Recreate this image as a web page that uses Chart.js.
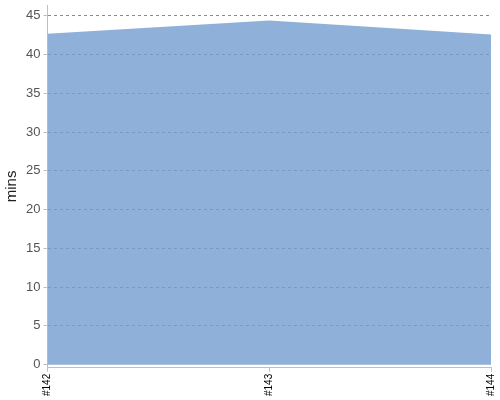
<!DOCTYPE html>
<html>
<head>
<meta charset="utf-8">
<script src="https://cdn.jsdelivr.net/npm/chart.js@4"></script>
<style>
  html, body { margin: 0; padding: 0; background: #fff; }
  #wrap { width: 500px; height: 400px; }
</style>
</head>
<body>
<div id="wrap"><canvas id="mins-chart"></canvas></div>
<script>
const builds = ['#142', '#143', '#144'];
const minutes = [42.7, 44.4, 42.6];
const yTicks = [0, 5, 10, 15, 20, 25, 30, 35, 40, 45];

const ctx = document.getElementById('mins-chart');

// drop the edge padding Chart.js reserves for tick labels
const noEdgePadding = (scale) => {
    scale.paddingTop = 0;
    scale.paddingBottom = 0;
    scale.paddingLeft = 0;
    scale.paddingRight = 0;
};

new Chart(ctx, {
    type: 'line',
    data: {
        labels: builds,
        datasets: [{
            data: minutes,
            fill: 'origin',
            tension: 0,
            pointRadius: 0,
            borderWidth: 0,
            backgroundColor: 'rgba(114, 156, 208, 0.8)'
        }]
    },
    options: {
        responsive: true,
        maintainAspectRatio: false,
        animation: false,
        layout: { padding: { top: 5, right: 9, left: 0, bottom: 2 } },
        plugins: {
            legend: { display: false },
            tooltip: { enabled: false }
        },
        scales: {
            x: {
                offset: false,
                afterFit: noEdgePadding,
                grid: {
                    display: true,
                    drawOnChartArea: false,
                    tickLength: 4,
                    color: '#c0c0c0'
                },
                border: { color: '#c0c0c0', width: 1 },
                ticks: {
                    minRotation: 90,
                    maxRotation: 90,
                    color: '#000',
                    padding: 2,
                    font: { family: 'Liberation Sans', size: 10 }
                }
            },
            y: {
                min: -0.4,
                max: 46.4,
                afterFit: noEdgePadding,
                afterBuildTicks: (axis) => {
                    axis.ticks = yTicks.map(v => ({ value: v }));
                },
                grid: {
                    color: (c) => c.tick && c.tick.value === 0 ? 'rgba(0,0,0,0)' : '#8a8a8a',
                    tickColor: '#c0c0c0',
                    tickLength: 4,
                    lineWidth: 1
                },
                border: { color: '#c0c0c0', width: 1, dash: [3, 3] },
                ticks: {
                    color: '#555',
                    padding: 3,
                    font: { family: 'Liberation Sans', size: 13 }
                },
                title: {
                    display: true,
                    text: 'mins',
                    color: '#222',
                    padding: { top: 3, bottom: 2 },
                    font: { family: 'Liberation Sans', size: 15 }
                }
            }
        }
    }
});
</script>
</body>
</html>
